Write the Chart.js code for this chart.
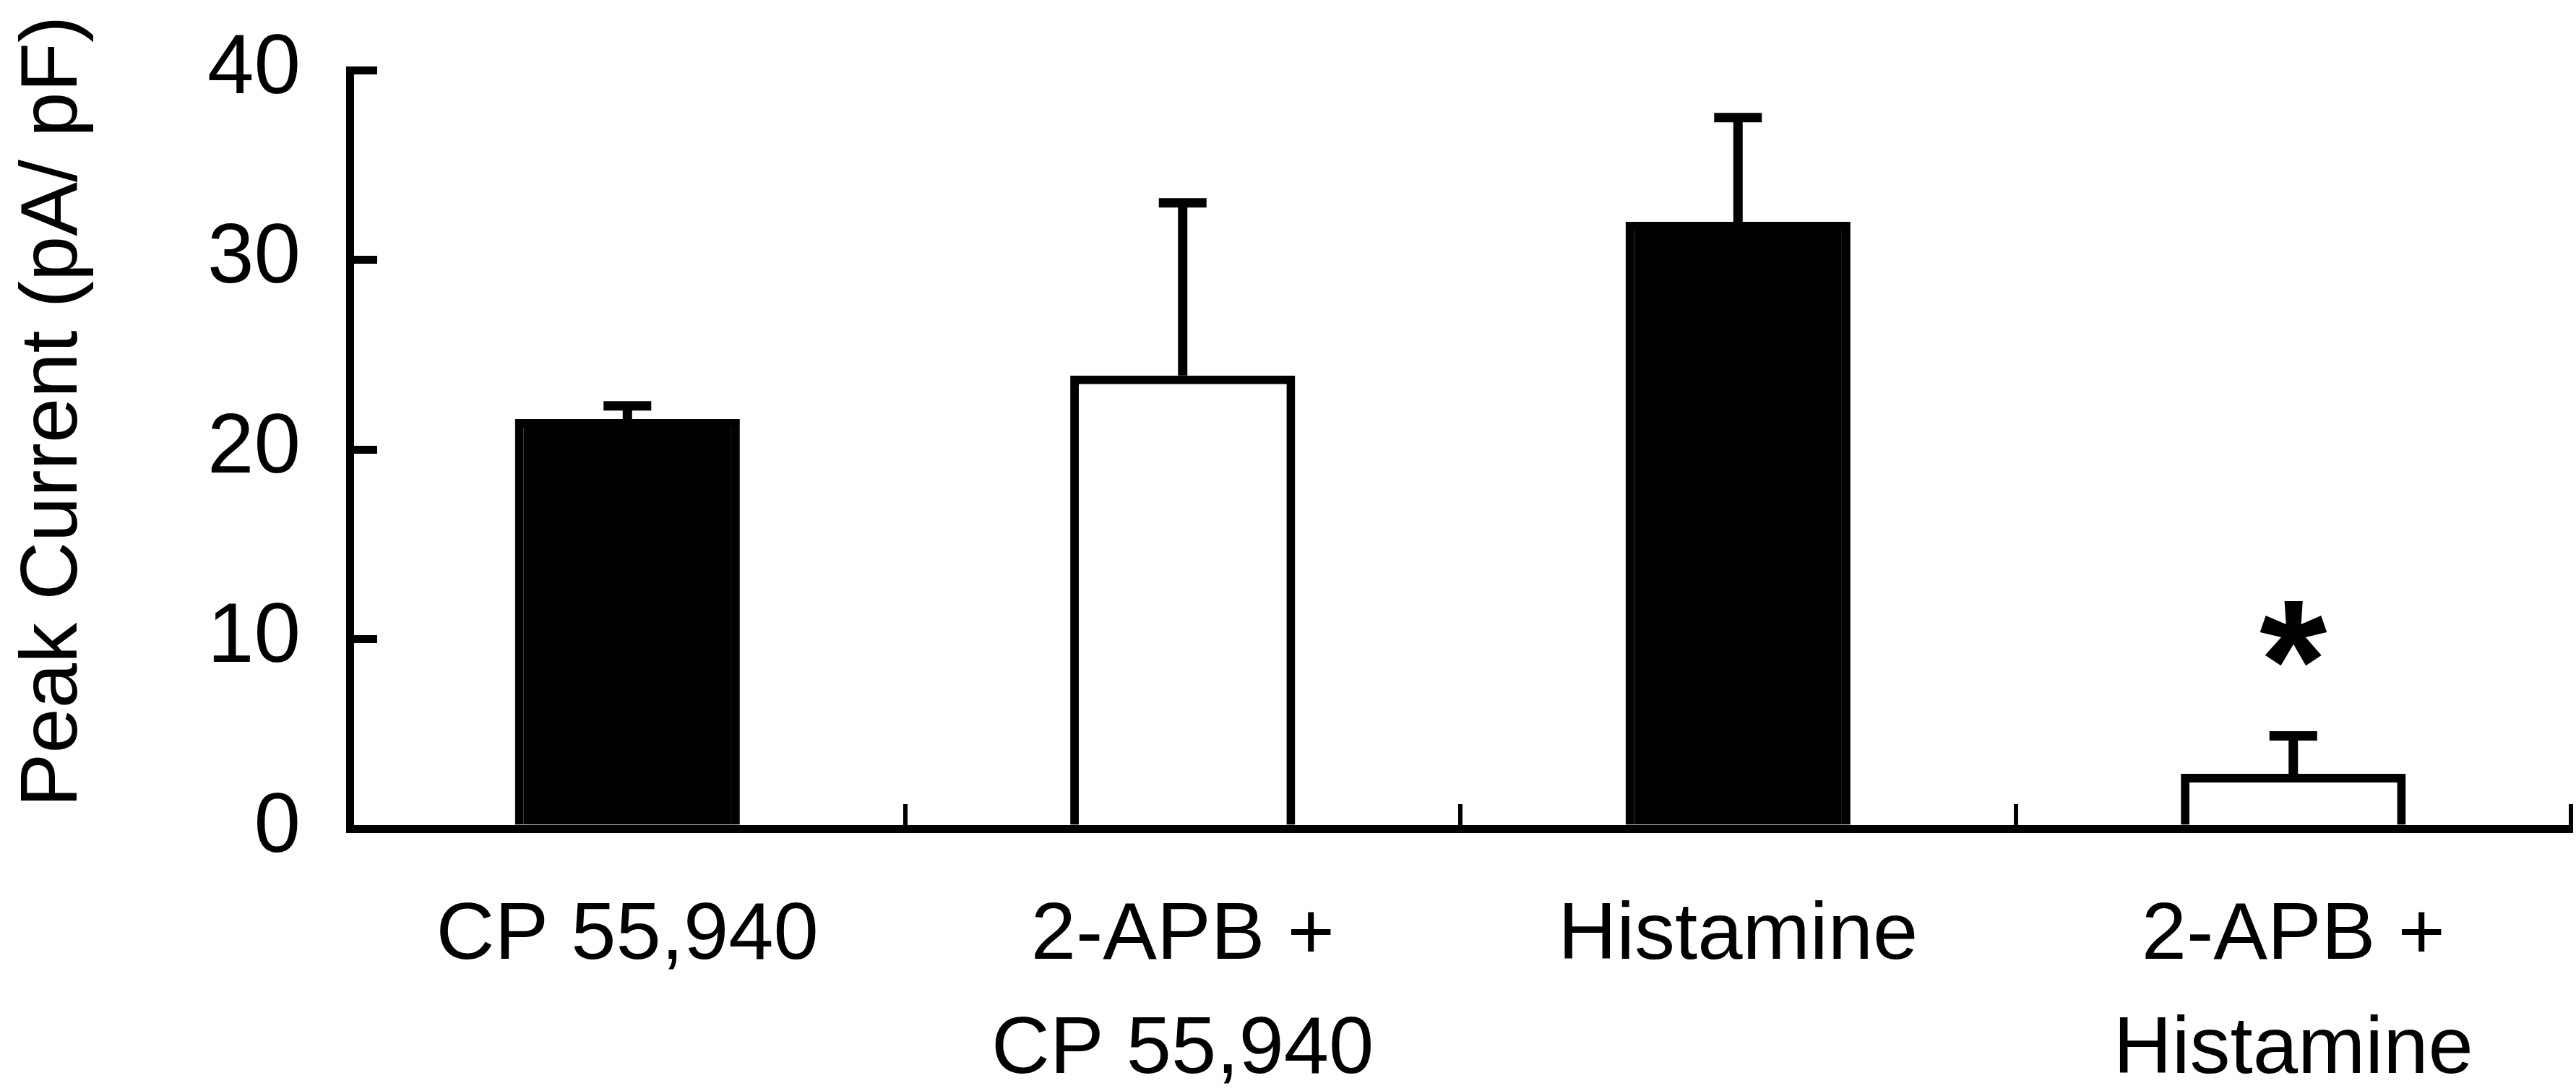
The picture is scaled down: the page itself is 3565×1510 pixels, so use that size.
<!DOCTYPE html>
<html>
<head>
<meta charset="utf-8">
<title>Peak Current</title>
<script src="https://cdn.jsdelivr.net/npm/chart.js@4/dist/chart.umd.min.js"></script>
<style>
  html, body { margin: 0; padding: 0; background: #fff; }
  canvas { display: block; }
</style>
</head>
<body>
<canvas id="chart" width="3565" height="1510"></canvas>
<script>
const labels = [["CP 55,940"], ["2-APB +", "CP 55,940"], ["Histamine"], ["2-APB +", "Histamine"]];
const peak = [21.6, 23.9, 32.0, 2.9];
const sem = [0.7, 9.1, 5.5, 2.0];
const fills = ["#000", "#fff", "#000", "#fff"];
const marks = ["", "", "", "*"];
const markAt = [null, null, null, 10.3];
const yTicks = [0, 10, 20, 30, 40];
const yTitle = "Peak Current (pA/ pF)";

const FONT = "'Liberation Sans', Arial, Helvetica, sans-serif";

// upper error bar with a cap on each bar
const errorBars = {
  id: "errorBars",
  afterDatasetsDraw(chart) {
    const ctx = chart.ctx;
    const y = chart.scales.y;
    ctx.save();
    ctx.strokeStyle = "#000";
    ctx.lineWidth = 13;
    chart.getDatasetMeta(0).data.forEach((bar, i) => {
      const top = y.getPixelForValue(peak[i] + sem[i]);
      ctx.beginPath();
      ctx.moveTo(bar.x, bar.y);
      ctx.lineTo(bar.x, top);
      ctx.moveTo(bar.x - 33, top);
      ctx.lineTo(bar.x + 33, top);
      ctx.stroke();
    });
    ctx.restore();
  }
};

// significance star
const starMarks = {
  id: "starMarks",
  afterDatasetsDraw(chart) {
    const ctx = chart.ctx;
    const y = chart.scales.y;
    ctx.save();
    ctx.font = "bold 240px " + FONT;
    ctx.fillStyle = "#000";
    ctx.textAlign = "center";
    ctx.textBaseline = "alphabetic";
    chart.getDatasetMeta(0).data.forEach((bar, i) => {
      if (!marks[i]) return;
      const m = ctx.measureText(marks[i]);
      const mid = (m.actualBoundingBoxAscent - m.actualBoundingBoxDescent) / 2;
      ctx.fillText(marks[i], bar.x, y.getPixelForValue(markAt[i]) + mid);
    });
    ctx.restore();
  }
};

// rotated y title, sits a little above the middle of the axis
const yTitleLabel = {
  id: "yTitleLabel",
  afterDraw(chart) {
    const { ctx, chartArea } = chart;
    ctx.save();
    ctx.translate(75, chartArea.top + (chartArea.bottom - chartArea.top) * 0.45);
    ctx.rotate(-Math.PI / 2);
    ctx.font = "112px " + FONT;
    ctx.fillStyle = "#000";
    ctx.textAlign = "center";
    ctx.textBaseline = "middle";
    ctx.fillText(yTitle, 0, 0);
    ctx.restore();
  }
};

new Chart(document.getElementById("chart"), {
  type: "bar",
  data: {
    labels,
    datasets: [{
      data: peak,
      backgroundColor: fills,
      borderColor: "#000",
      borderWidth: 12,
      barPercentage: 0.405,
      categoryPercentage: 1
    }]
  },
  options: {
    responsive: false,
    animation: false,
    devicePixelRatio: 1,
    layout: { padding: { top: 97, right: 7, left: 0, bottom: 0 } },
    plugins: { legend: { display: false }, tooltip: { enabled: false } },
    scales: {
      x: {
        z: 1,
        grid: { offset: true, drawOnChartArea: false, tickLength: -34, lineWidth: 6, color: "#000" },
        border: { color: "#000", width: 11 },
        ticks: {
          color: "#000",
          padding: 104,
          maxRotation: 0,
          autoSkip: false,
          font: { family: FONT, size: 112, lineHeight: 1.41 }
        },
        afterFit(s) { s.height = 363; s.paddingLeft = 0; s.paddingRight = 0; }
      },
      y: {
        z: 1,
        min: 0,
        max: 40,
        grid: { drawOnChartArea: false, tickLength: -38, lineWidth: 11, color: "#000" },
        border: { color: "#000", width: 11 },
        ticks: { color: "#000", padding: 106, font: { family: FONT, size: 116 } },
        afterBuildTicks(s) { s.ticks = yTicks.map(v => ({ value: v })); },
        afterFit(s) { s.width = 484; s.paddingTop = 0; s.paddingBottom = 0; }
      }
    }
  },
  plugins: [errorBars, starMarks, yTitleLabel]
});
</script>
</body>
</html>
